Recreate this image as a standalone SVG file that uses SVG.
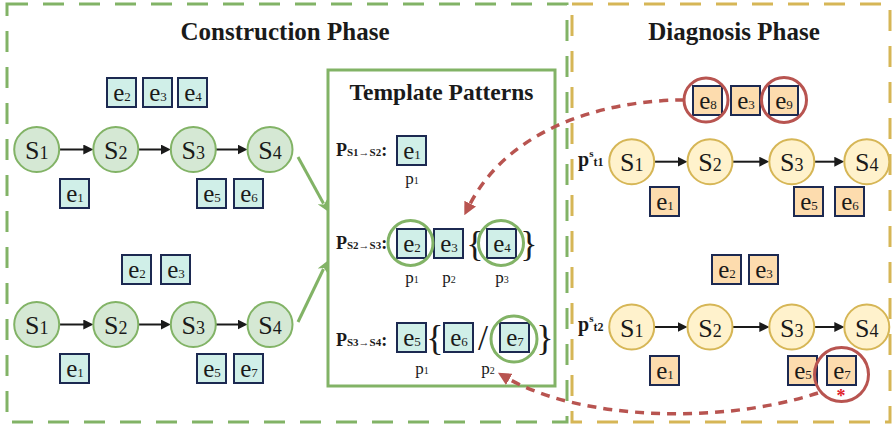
<svg xmlns="http://www.w3.org/2000/svg" width="895" height="430" viewBox="0 0 895 430">
<defs>
<style>
text{font-family:"Liberation Serif","Times New Roman",serif;fill:#1a1a1a}
.title{font-size:25px;font-weight:bold;text-anchor:middle}
.sc{fill:#d5e8d4;stroke:#82b366;stroke-width:2}
.sy{fill:#fff2cc;stroke:#d6b656;stroke-width:2}
.st{font-size:26px;text-anchor:middle}
.ss{font-size:18px}
.bc{fill:#d0efe8;stroke:#1c2951;stroke-width:2}
.by{fill:#fddcae;stroke:#1c2951;stroke-width:2}
.ev{font-size:25px;text-anchor:middle}
.es{font-size:13px}
.arr{stroke:#1a1a1a;stroke-width:2;fill:none;marker-end:url(#ahb)}
.garr{stroke:#82b366;stroke-width:3;fill:none;marker-end:url(#ahg)}
.rarr{stroke:#b85450;stroke-width:3.5;fill:none;stroke-dasharray:9,7;marker-end:url(#ahr)}
.gc{fill:none;stroke:#82b366;stroke-width:3}
.rc{fill:none;stroke:#b85450;stroke-width:3}
.pl{font-size:18px;font-weight:bold}
.pls{font-size:11px}
.pp{font-size:17px;text-anchor:middle}
.pps{font-size:10px}
.br{font-size:36px;text-anchor:middle}
</style>
<marker id="ahb" viewBox="0 0 10 10" refX="1" refY="5" markerWidth="10" markerHeight="10" markerUnits="userSpaceOnUse" orient="auto"><path d="M0,0 L10,5 L0,10 z" fill="#1a1a1a"/></marker>
<marker id="ahg" viewBox="0 0 10 10" refX="2" refY="5" markerWidth="11" markerHeight="11" markerUnits="userSpaceOnUse" orient="auto"><path d="M0,0 L10,5 L0,10 L3,5 z" fill="#82b366"/></marker>
<marker id="ahr" viewBox="0 0 10 10" refX="2" refY="5" markerWidth="13" markerHeight="13" markerUnits="userSpaceOnUse" orient="auto"><path d="M0,0 L10,5 L0,10 z" fill="#b85450"/></marker>
</defs>
<rect width="895" height="430" fill="#ffffff"/>

<g id="construction-phase">
<rect x="7" y="4" width="560" height="418" fill="none" stroke="#82b366" stroke-width="3" stroke-dasharray="21,15"/>
<text class="title" x="285" y="40">Construction Phase</text>
</g>
<g id="diagnosis-phase">
<rect x="572" y="4" width="318" height="418" fill="none" stroke="#d6b656" stroke-width="3" stroke-dasharray="21,15"/>
<text class="title" x="734" y="40">Diagnosis Phase</text>
</g>
<g id="template-patterns">
<rect x="328" y="70" width="227" height="316" fill="#ffffff" stroke="#82b366" stroke-width="3"/>
<text x="441.5" y="100" style="font-size:23.5px;font-weight:bold;text-anchor:middle">Template Patterns</text>
</g>

<g id="connectors">
<path class="arr" d="M59.2,149.5 H84.3"/>
<path class="arr" d="M138.3,149.5 H161.8"/>
<path class="arr" d="M215.8,149.5 H238.5"/>
<path class="arr" d="M59.2,324.5 H84.3"/>
<path class="arr" d="M138.3,324.5 H161.8"/>
<path class="arr" d="M215.8,324.5 H238.5"/>
<path class="arr" d="M654.2,161.7 H678.5"/>
<path class="arr" d="M732.5,161.7 H760.3"/>
<path class="arr" d="M814.3,161.7 H835.3"/>
<path class="arr" d="M654.2,327 H678.5"/>
<path class="arr" d="M732.5,327 H760.3"/>
<path class="arr" d="M814.3,327 H835.3"/>
<path class="garr" d="M298,157 L323.5,203.5"/>
<path class="garr" d="M298,322 L323.5,269"/>
<path class="rarr" d="M684,100 C610,100 510,125 469,206"/>
<path class="rarr" d="M818,393 C720,425 580,420 507,378"/>
</g>

<g id="c-r1-S1"><circle class="sc" cx="36.7" cy="149.5" r="22.5"/><text class="st" x="36.7" y="159">S<tspan class="ss">1</tspan></text></g>
<g id="c-r1-S2"><circle class="sc" cx="115.8" cy="149.5" r="22.5"/><text class="st" x="115.8" y="159">S<tspan class="ss">2</tspan></text></g>
<g id="c-r1-S3"><circle class="sc" cx="193.3" cy="149.5" r="22.5"/><text class="st" x="193.3" y="159">S<tspan class="ss">3</tspan></text></g>
<g id="c-r1-S4"><circle class="sc" cx="270" cy="149.5" r="22.5"/><text class="st" x="270" y="159">S<tspan class="ss">4</tspan></text></g>
<g id="c-r2-S1"><circle class="sc" cx="36.7" cy="324.5" r="22.5"/><text class="st" x="36.7" y="334">S<tspan class="ss">1</tspan></text></g>
<g id="c-r2-S2"><circle class="sc" cx="115.8" cy="324.5" r="22.5"/><text class="st" x="115.8" y="334">S<tspan class="ss">2</tspan></text></g>
<g id="c-r2-S3"><circle class="sc" cx="193.3" cy="324.5" r="22.5"/><text class="st" x="193.3" y="334">S<tspan class="ss">3</tspan></text></g>
<g id="c-r2-S4"><circle class="sc" cx="270" cy="324.5" r="22.5"/><text class="st" x="270" y="334">S<tspan class="ss">4</tspan></text></g>

<g id="c-r1-e2"><rect class="bc" x="107" y="78" width="29" height="29"/><text class="ev" x="122" y="101">e<tspan class="es">2</tspan></text></g>
<g id="c-r1-e3"><rect class="bc" x="143" y="78" width="29" height="29"/><text class="ev" x="158" y="101">e<tspan class="es">3</tspan></text></g>
<g id="c-r1-e4"><rect class="bc" x="178" y="78" width="29" height="29"/><text class="ev" x="193" y="101">e<tspan class="es">4</tspan></text></g>
<g id="c-r1-e1"><rect class="bc" x="60" y="179" width="29" height="29"/><text class="ev" x="75" y="202">e<tspan class="es">1</tspan></text></g>
<g id="c-r1-e5"><rect class="bc" x="197" y="179" width="29" height="29"/><text class="ev" x="212" y="202">e<tspan class="es">5</tspan></text></g>
<g id="c-r1-e6"><rect class="bc" x="234" y="179" width="29" height="29"/><text class="ev" x="249" y="202">e<tspan class="es">6</tspan></text></g>
<g id="c-r2-e2"><rect class="bc" x="122" y="255" width="29" height="29"/><text class="ev" x="137" y="278">e<tspan class="es">2</tspan></text></g>
<g id="c-r2-e3"><rect class="bc" x="161" y="255" width="29" height="29"/><text class="ev" x="176" y="278">e<tspan class="es">3</tspan></text></g>
<g id="c-r2-e1"><rect class="bc" x="60" y="354" width="29" height="29"/><text class="ev" x="75" y="377">e<tspan class="es">1</tspan></text></g>
<g id="c-r2-e5"><rect class="bc" x="197" y="354" width="29" height="29"/><text class="ev" x="212" y="377">e<tspan class="es">5</tspan></text></g>
<g id="c-r2-e7"><rect class="bc" x="234" y="354" width="29" height="29"/><text class="ev" x="249" y="377">e<tspan class="es">7</tspan></text></g>

<g id="t-p1">
<text class="pl" x="336" y="156">P<tspan class="pls">S1→S2</tspan>:</text>
<rect class="bc" x="397" y="136" width="29" height="29"/><text class="ev" x="412" y="159">e<tspan class="es">1</tspan></text>
<text class="pp" x="412" y="184">p<tspan class="pps">1</tspan></text>
</g>
<g id="t-p2">
<text class="pl" x="336" y="249">P<tspan class="pls">S2→S3</tspan>:</text>
<rect class="bc" x="397" y="229" width="29" height="29"/><text class="ev" x="412" y="252">e<tspan class="es">2</tspan></text>
<rect class="bc" x="434" y="229" width="29" height="29"/><text class="ev" x="449" y="252">e<tspan class="es">3</tspan></text>
<text class="br" x="475" y="256">{</text>
<rect class="bc" x="487" y="229" width="29" height="29"/><text class="ev" x="502" y="252">e<tspan class="es">4</tspan></text>
<text class="br" x="529" y="256">}</text>
<circle class="gc" cx="410.5" cy="243" r="22.5"/>
<circle class="gc" cx="501" cy="243" r="22.5"/>
<text class="pp" x="412" y="283">p<tspan class="pps">1</tspan></text>
<text class="pp" x="449" y="283">p<tspan class="pps">2</tspan></text>
<text class="pp" x="502" y="283">p<tspan class="pps">3</tspan></text>
</g>
<g id="t-p3">
<text class="pl" x="336" y="346">P<tspan class="pls">S3→S4</tspan>:</text>
<rect class="bc" x="397" y="323" width="29" height="29"/><text class="ev" x="412" y="346">e<tspan class="es">5</tspan></text>
<text class="br" x="435" y="350">{</text>
<rect class="bc" x="444" y="323" width="29" height="29"/><text class="ev" x="459" y="346">e<tspan class="es">6</tspan></text>
<text class="br" x="483" y="350">/</text>
<rect class="bc" x="500" y="323" width="29" height="29"/><text class="ev" x="515" y="346">e<tspan class="es">7</tspan></text>
<text class="br" x="545" y="350">}</text>
<circle class="gc" cx="514" cy="339" r="23"/>
<text class="pp" x="422" y="374">p<tspan class="pps">1</tspan></text>
<text class="pp" x="488" y="374">p<tspan class="pps">2</tspan></text>
</g>

<g id="d-label-t1"><text x="578" y="166" style="font-size:20px;font-weight:bold">p<tspan dy="-9" style="font-size:11px">s</tspan><tspan dy="9" style="font-size:12px">t1</tspan></text></g>
<g id="d-label-t2"><text x="578" y="331" style="font-size:20px;font-weight:bold">p<tspan dy="-9" style="font-size:11px">s</tspan><tspan dy="9" style="font-size:12px">t2</tspan></text></g>

<g id="d-r1-S1"><circle class="sy" cx="631.7" cy="161.7" r="22.5"/><text class="st" x="631.7" y="171">S<tspan class="ss">1</tspan></text></g>
<g id="d-r1-S2"><circle class="sy" cx="710" cy="161.7" r="22.5"/><text class="st" x="710" y="171">S<tspan class="ss">2</tspan></text></g>
<g id="d-r1-S3"><circle class="sy" cx="791.8" cy="161.7" r="22.5"/><text class="st" x="791.8" y="171">S<tspan class="ss">3</tspan></text></g>
<g id="d-r1-S4"><circle class="sy" cx="866.8" cy="161.7" r="22.5"/><text class="st" x="866.8" y="171">S<tspan class="ss">4</tspan></text></g>
<g id="d-r2-S1"><circle class="sy" cx="631.7" cy="327" r="22.5"/><text class="st" x="631.7" y="336.5">S<tspan class="ss">1</tspan></text></g>
<g id="d-r2-S2"><circle class="sy" cx="710" cy="327" r="22.5"/><text class="st" x="710" y="336.5">S<tspan class="ss">2</tspan></text></g>
<g id="d-r2-S3"><circle class="sy" cx="791.8" cy="327" r="22.5"/><text class="st" x="791.8" y="336.5">S<tspan class="ss">3</tspan></text></g>
<g id="d-r2-S4"><circle class="sy" cx="866.8" cy="327" r="22.5"/><text class="st" x="866.8" y="336.5">S<tspan class="ss">4</tspan></text></g>

<g id="d-r1-e8"><rect class="by" x="693" y="86" width="29" height="29"/><text class="ev" x="708" y="109">e<tspan class="es">8</tspan></text><circle class="rc" cx="706" cy="100" r="22"/></g>
<g id="d-r1-e3"><rect class="by" x="731" y="86" width="29" height="29"/><text class="ev" x="746" y="109">e<tspan class="es">3</tspan></text></g>
<g id="d-r1-e9"><rect class="by" x="769" y="86" width="29" height="29"/><text class="ev" x="784" y="109">e<tspan class="es">9</tspan></text><circle class="rc" cx="784" cy="100" r="22.5"/></g>
<g id="d-r1-e1"><rect class="by" x="650" y="187" width="29" height="29"/><text class="ev" x="665" y="210">e<tspan class="es">1</tspan></text></g>
<g id="d-r1-e5"><rect class="by" x="794" y="187" width="29" height="29"/><text class="ev" x="809" y="210">e<tspan class="es">5</tspan></text></g>
<g id="d-r1-e6"><rect class="by" x="835" y="187" width="29" height="29"/><text class="ev" x="850" y="210">e<tspan class="es">6</tspan></text></g>
<g id="d-r2-e2"><rect class="by" x="712" y="255" width="29" height="29"/><text class="ev" x="727" y="278">e<tspan class="es">2</tspan></text></g>
<g id="d-r2-e3"><rect class="by" x="749" y="255" width="29" height="29"/><text class="ev" x="764" y="278">e<tspan class="es">3</tspan></text></g>
<g id="d-r2-e1"><rect class="by" x="650" y="356" width="29" height="29"/><text class="ev" x="665" y="379">e<tspan class="es">1</tspan></text></g>
<g id="d-r2-e5"><rect class="by" x="788" y="356" width="29" height="29"/><text class="ev" x="803" y="379">e<tspan class="es">5</tspan></text></g>
<g id="d-r2-e7"><rect class="by" x="827" y="356" width="29" height="29"/><text class="ev" x="842" y="379">e<tspan class="es">7</tspan></text><circle class="rc" cx="841.5" cy="374.5" r="27"/><text x="841" y="402" style="font-size:18px;font-weight:bold;fill:#e0202a;text-anchor:middle">*</text></g>
</svg>
